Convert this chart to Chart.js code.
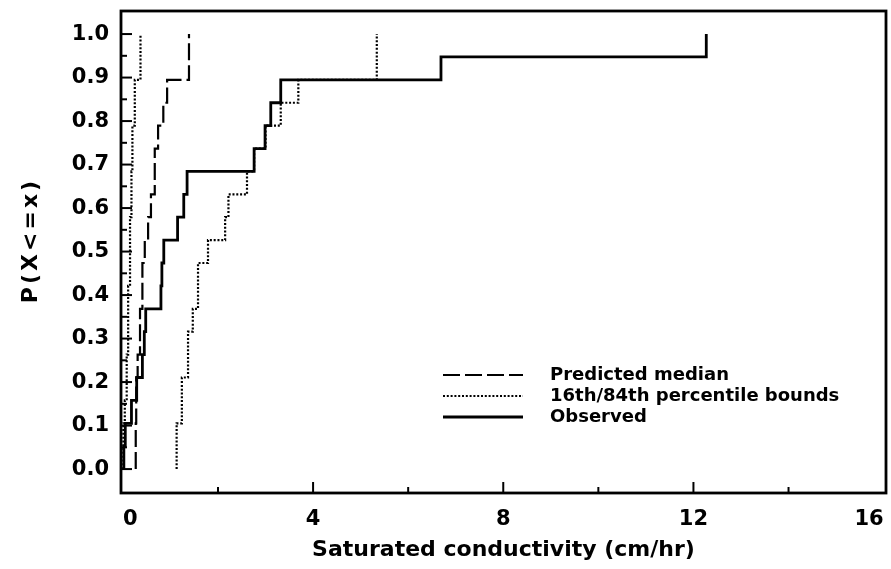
<!DOCTYPE html>
<html>
<head>
<meta charset="utf-8">
<script src="https://cdn.jsdelivr.net/npm/chart.js@4.4.1/dist/chart.umd.min.js"></script>
<style>
  html, body { margin: 0; padding: 0; background: #fff; }
  #wrap { width: 891px; height: 569px; }
</style>
</head>
<body>
<div id="wrap"><canvas id="c" width="891" height="569"></canvas></div>
<script>
// Sorted saturated conductivity values (cm/hr) for the 19 sites.
// Each series is drawn as an empirical cumulative distribution.
const observed        = [0.02, 0.05, 0.18, 0.29, 0.41, 0.45, 0.48, 0.80, 0.82, 0.86, 1.15, 1.28, 1.35, 2.76, 2.99, 3.11, 3.32, 6.69, 12.27];
const predictedMedian = [0.27, 0.27, 0.28, 0.28, 0.31, 0.36, 0.36, 0.41, 0.41, 0.46, 0.53, 0.59, 0.67, 0.67, 0.74, 0.85, 0.93, 1.39, 1.39];
const lower16th       = [0.01, 0.01, 0.04, 0.08, 0.08, 0.11, 0.11, 0.11, 0.15, 0.15, 0.15, 0.18, 0.18, 0.20, 0.20, 0.25, 0.25, 0.37, 0.37];
const upper84th       = [1.13, 1.13, 1.24, 1.24, 1.37, 1.37, 1.47, 1.58, 1.58, 1.79, 2.15, 2.22, 2.61, 2.76, 3.00, 3.32, 3.69, 5.34, 5.34];

const xTicks = [0, 4, 8, 12, 16];
const yTicks = [0.0, 0.1, 0.2, 0.3, 0.4, 0.5, 0.6, 0.7, 0.8, 0.9, 1.0];
const legendLabels = ['Predicted median', '16th/84th percentile bounds', 'Observed'];
const xTitle = 'Saturated conductivity (cm/hr)';
const yTitle = 'P(X<=x)';

// Turn sorted values into step points: start at 0, rise 1/n at each value.
function ecdf(values) {
  const n = values.length;
  const pts = [{ x: values[0], y: 0 }];
  values.forEach((v, i) => pts.push({ x: v, y: (i + 1) / n }));
  return pts;
}

const FONT = '"DejaVu Sans", sans-serif';
const INK = '#000';

const styles = {
  median:   { borderDash: [17, 5],  borderWidth: 2.2 },
  bounds:   { borderDash: [2, 1.8], borderWidth: 2.2 },
  observed: { borderDash: [],       borderWidth: 2.8 }
};

// Inward tick marks, frame, y-axis title and the in-plot legend.
const frameAndLegend = {
  id: 'frameAndLegend',
  afterDatasetsDraw(chart) {
    const { ctx, chartArea: a, scales: { x, y } } = chart;
    ctx.save();
    ctx.strokeStyle = INK;
    ctx.lineWidth = 2;
    ctx.setLineDash([]);
    for (let i = 0; i <= 20; i++) {
      const py = y.getPixelForValue(i * 0.05);
      const len = i % 2 === 0 ? 11 : 6;
      ctx.beginPath(); ctx.moveTo(a.left, py); ctx.lineTo(a.left + len, py); ctx.stroke();
    }
    for (let i = 1; i < 8; i++) {
      const px = x.getPixelForValue(i * 2);
      const len = i % 2 === 0 ? 11 : 6;
      ctx.beginPath(); ctx.moveTo(px, a.bottom); ctx.lineTo(px, a.bottom - len); ctx.stroke();
    }
    ctx.lineWidth = 2.8;
    ctx.strokeRect(a.left, a.top, a.right - a.left, a.bottom - a.top);

    // y-axis title, rotated, with slightly open letter spacing
    ctx.save();
    ctx.translate(31, 242);
    ctx.rotate(-Math.PI / 2);
    ctx.font = 'bold 22px ' + FONT;
    ctx.letterSpacing = '3px';
    ctx.fillStyle = INK;
    ctx.textAlign = 'center';
    ctx.textBaseline = 'middle';
    ctx.fillText(yTitle, 1.5, 0);
    ctx.restore();

    // legend
    const rows = [styles.median, styles.bounds, styles.observed];
    const x0 = 443, x1 = 523, tx = 550, y0 = 375, dy = 21;
    ctx.font = 'bold 18px ' + FONT;
    ctx.fillStyle = INK;
    ctx.textAlign = 'left';
    ctx.textBaseline = 'middle';
    rows.forEach((s, i) => {
      const yy = y0 + i * dy;
      ctx.lineWidth = s.borderWidth;
      ctx.setLineDash(s.borderDash);
      ctx.beginPath(); ctx.moveTo(x0, yy); ctx.lineTo(x1, yy); ctx.stroke();
      ctx.fillText(legendLabels[i], tx, yy);
    });
    ctx.restore();
  }
};

const lineBase = { borderColor: INK, backgroundColor: INK, pointRadius: 0, fill: false, stepped: 'before', tension: 0 };

new Chart(document.getElementById('c'), {
  type: 'line',
  data: {
    datasets: [
      Object.assign({ label: legendLabels[0], data: ecdf(predictedMedian) }, lineBase, styles.median),
      Object.assign({ label: legendLabels[1], data: ecdf(lower16th) }, lineBase, styles.bounds),
      Object.assign({ label: legendLabels[1], data: ecdf(upper84th) }, lineBase, styles.bounds),
      Object.assign({ label: legendLabels[2], data: ecdf(observed) }, lineBase, styles.observed)
    ]
  },
  options: {
    responsive: false,
    animation: false,
    devicePixelRatio: 1,
    layout: { padding: { top: 11, right: 5, left: 0, bottom: 0 } },
    plugins: { legend: { display: false }, tooltip: { enabled: false } },
    scales: {
      x: {
        type: 'linear',
        min: -0.04,
        max: 16.05,
        afterBuildTicks: s => { s.ticks = xTicks.map(v => ({ value: v })); },
        afterFit: s => { s.height = 76; s.paddingLeft = 0; s.paddingRight = 0; },
        grid: { display: false, drawTicks: false },
        border: { display: false },
        ticks: { color: INK, font: { family: FONT, size: 21, weight: 'bold' }, padding: 14, maxRotation: 0, align: 'inner', callback: v => String(v) },
        title: { display: true, text: xTitle, color: INK, font: { family: FONT, size: 22, weight: 'bold' }, padding: { top: 0, bottom: 6 } }
      },
      y: {
        type: 'linear',
        min: -0.055,
        max: 1.053,
        afterBuildTicks: s => { s.ticks = yTicks.map(v => ({ value: v })); },
        afterFit: s => { s.width = 121; s.paddingTop = 0; s.paddingBottom = 0; },
        grid: { display: false, drawTicks: false },
        border: { display: false },
        ticks: { color: INK, font: { family: FONT, size: 21, weight: 'bold' }, padding: 12, callback: v => Number(v).toFixed(1) },
        title: { display: false }
      }
    }
  },
  plugins: [frameAndLegend]
});
</script>
</body>
</html>
